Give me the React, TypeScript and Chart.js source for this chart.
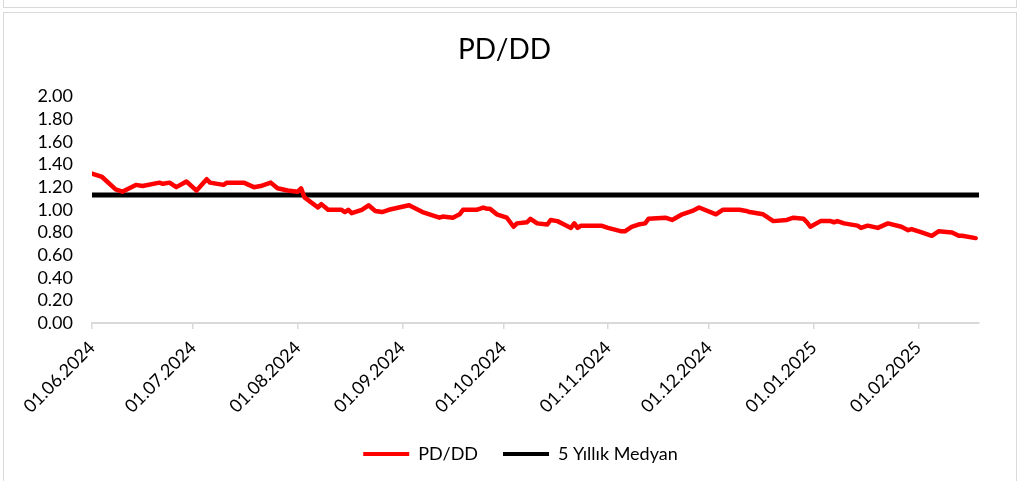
import { useEffect, useRef } from "react";
import { Chart, registerables } from "chart.js";

Chart.register(...registerables);

// ---- data ----
const dates = [
  "01.06.2024", "04.06.2024", "08.06.2024", "10.06.2024", "14.06.2024", "16.06.2024",
  "21.06.2024", "22.06.2024", "24.06.2024", "26.06.2024", "29.06.2024", "02.07.2024",
  "05.07.2024", "06.07.2024", "10.07.2024", "11.07.2024", "16.07.2024", "19.07.2024",
  "21.07.2024", "24.07.2024", "26.07.2024", "29.07.2024", "01.08.2024", "02.08.2024",
  "03.08.2024", "07.08.2024", "08.08.2024", "10.08.2024", "14.08.2024", "15.08.2024",
  "16.08.2024", "17.08.2024", "20.08.2024", "22.08.2024", "24.08.2024", "26.08.2024",
  "28.08.2024", "03.09.2024", "07.09.2024", "12.09.2024", "13.09.2024", "16.09.2024",
  "18.09.2024", "19.09.2024", "23.09.2024", "25.09.2024", "26.09.2024", "27.09.2024",
  "29.09.2024", "02.10.2024", "04.10.2024", "05.10.2024", "08.10.2024", "09.10.2024",
  "11.10.2024", "14.10.2024", "15.10.2024", "17.10.2024", "19.10.2024", "21.10.2024",
  "22.10.2024", "23.10.2024", "24.10.2024", "30.10.2024", "01.11.2024", "05.11.2024",
  "06.11.2024", "08.11.2024", "10.11.2024", "12.11.2024", "13.11.2024", "18.11.2024",
  "20.11.2024", "23.11.2024", "26.11.2024", "28.11.2024", "03.12.2024", "05.12.2024",
  "10.12.2024", "12.12.2024", "13.12.2024", "17.12.2024", "20.12.2024", "24.12.2024",
  "26.12.2024", "29.12.2024", "30.12.2024", "31.12.2024", "03.01.2025", "06.01.2025",
  "07.01.2025", "08.01.2025", "10.01.2025", "14.01.2025", "15.01.2025", "17.01.2025",
  "20.01.2025", "23.01.2025", "27.01.2025", "29.01.2025", "30.01.2025", "02.02.2025",
  "05.02.2025", "07.02.2025", "11.02.2025", "13.02.2025", "14.02.2025", "18.02.2025",
];

const pdddValues = [
  1.32, 1.29, 1.18, 1.16, 1.22, 1.21,
  1.24, 1.23, 1.24, 1.20, 1.25, 1.17,
  1.27, 1.24, 1.22, 1.24, 1.24, 1.20,
  1.21, 1.24, 1.19, 1.17, 1.16, 1.19,
  1.11, 1.02, 1.05, 1.00, 1.00, 0.98,
  1.00, 0.97, 1.00, 1.04, 0.99, 0.98,
  1.00, 1.04, 0.98, 0.93, 0.94, 0.93,
  0.96, 1.00, 1.00, 1.02, 1.01, 1.01,
  0.96, 0.93, 0.85, 0.88, 0.89, 0.92,
  0.88, 0.87, 0.91, 0.90, 0.87, 0.84,
  0.88, 0.84, 0.86, 0.86, 0.84, 0.81,
  0.81, 0.85, 0.87, 0.88, 0.92, 0.93,
  0.91, 0.96, 0.99, 1.02, 0.96, 1.00,
  1.00, 0.99, 0.98, 0.96, 0.90, 0.91,
  0.93, 0.92, 0.89, 0.85, 0.90, 0.90,
  0.89, 0.90, 0.88, 0.86, 0.84, 0.86,
  0.84, 0.88, 0.85, 0.82, 0.83, 0.80,
  0.77, 0.81, 0.80, 0.77, 0.77, 0.75,
];

const medianValue = 1.13;
const medianStart = "01.06.2024";
const medianEnd = "19.02.2025";

const xTickLabels = [
  "01.06.2024", "01.07.2024", "01.08.2024", "01.09.2024", "01.10.2024",
  "01.11.2024", "01.12.2024", "01.01.2025", "01.02.2025",
];

const yMin = 0;
const yMax = 2;
const yStep = 0.2;

const seriesNames = ["PD/DD", "5 Yıllık Medyan"];
const chartTitle = "PD/DD";

// ---- helpers ----
const origin = Date.UTC(2024, 5, 1);
function dayOf(s: string): number {
  const [d, m, y] = s.split(".").map(Number);
  return (Date.UTC(y, m - 1, d) - origin) / 86400000;
}

const FONT = "Lato, 'Open Sans', sans-serif";

const legendShift = {
  id: "legendShift",
  afterLayout(chart: any) {
    if (chart.legend) {
      chart.legend.left += 16;
      chart.legend.right += 16;
    }
  },
};

export default function App() {
  const ref = useRef<HTMLCanvasElement | null>(null);

  useEffect(() => {
    if (!ref.current) return;
    const tickDays = xTickLabels.map(dayOf);
    const chart = new Chart(ref.current, {
      type: "line",
      data: {
        datasets: [
          {
            label: seriesNames[0],
            data: dates.map((d, i) => ({ x: dayOf(d), y: pdddValues[i] })),
            borderColor: "#ff0000",
            backgroundColor: "#ff0000",
            borderWidth: 4.5,
            pointRadius: 0,
            tension: 0,
            borderJoinStyle: "round",
            borderCapStyle: "round",
          },
          {
            label: seriesNames[1],
            data: [
              { x: dayOf(medianStart), y: medianValue },
              { x: dayOf(medianEnd), y: medianValue },
            ],
            borderColor: "#000000",
            backgroundColor: "#000000",
            borderWidth: 5,
            pointRadius: 0,
            borderCapStyle: "round",
          },
        ],
      },
      options: {
        animation: false,
        responsive: false,
        maintainAspectRatio: false,
        layout: { padding: { left: 30, right: 53, top: 0, bottom: 8 } },
        plugins: {
          title: {
            display: true,
            text: chartTitle,
            color: "#000",
            font: { family: FONT, size: 28, weight: "normal" },
            padding: { top: 33, bottom: 30 },
          },
          legend: {
            position: "bottom",
            labels: {
              color: "#000",
              font: { family: FONT, size: 18 },
              boxWidth: 46,
              boxHeight: 4,
              padding: 25,
              generateLabels: (c: any) =>
                (Chart.defaults.plugins.legend.labels as any)
                  .generateLabels(c)
                  .map((l: any) => ({ ...l, lineWidth: 0, fillStyle: l.strokeStyle })),
            },
          },
          tooltip: { enabled: false },
        },
        scales: {
          x: {
            type: "linear",
            min: dayOf(xTickLabels[0]),
            max: dayOf(medianEnd),
            afterBuildTicks: (scale: any) => {
              scale.ticks = tickDays.map((v) => ({ value: v }));
            },
            afterFit: (scale: any) => {
              scale.height = 97;
            },
            grid: {
              display: true,
              drawOnChartArea: false,
              drawTicks: true,
              tickLength: 6,
              color: "#d9d9d9",
              lineWidth: 1.5,
            },
            border: { display: true, color: "#d9d9d9", width: 2 },
            ticks: {
              autoSkip: false,
              minRotation: 45,
              maxRotation: 45,
              padding: 8,
              color: "#000",
              font: { family: FONT, size: 18 },
              callback: (v: any) => {
                const i = tickDays.indexOf(Number(v));
                return i >= 0 ? xTickLabels[i] : "";
              },
            },
          },
          y: {
            min: yMin,
            max: yMax,
            afterFit: (scale: any) => {
              scale.width = 62;
            },
            grid: { display: false, drawTicks: false },
            border: { display: false },
            ticks: {
              autoSkip: false,
              stepSize: yStep,
              padding: 19,
              color: "#000",
              font: { family: FONT, size: 18 },
              callback: (v: any) => Number(v).toFixed(2),
            },
          },
        },
      },
      plugins: [legendShift],
    } as any);
    return () => chart.destroy();
  }, []);

  return (
    <div
      style={{
        position: "fixed",
        left: 0,
        top: 0,
        width: 1032,
        height: 481,
        background: "#fff",
        overflow: "hidden",
      }}
    >
      <div
        style={{
          position: "absolute",
          left: 3,
          top: -10,
          width: 1012,
          height: 16,
          border: "1px solid #d9d9d9",
        }}
      />
      <div
        style={{
          position: "absolute",
          left: 3,
          top: 12,
          width: 1012,
          height: 480,
          border: "1px solid #d9d9d9",
        }}
      />
      <canvas
        ref={ref}
        width={1032}
        height={481}
        style={{ position: "absolute", left: 0, top: 0, width: 1032, height: 481 }}
      />
    </div>
  );
}
